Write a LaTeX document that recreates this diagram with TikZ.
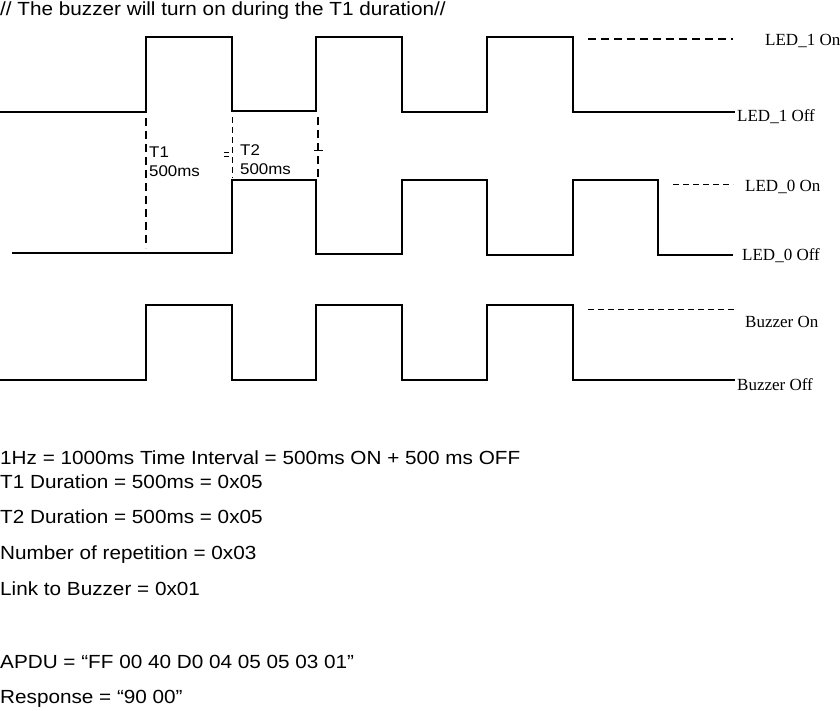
\documentclass[tikz,border=0pt]{standalone}
\usepackage{fontspec}
\setmainfont[FakeStretch=1.09]{Liberation Sans}
\newfontfamily\seriffont{Liberation Serif}
\usetikzlibrary{positioning}

\begin{document}
\begin{tikzpicture}[x=1pt, y=-1pt,
  wave/.style={line width=1.5pt, line join=miter},
  level/.style={line width=1.4pt, dash pattern=on 8pt off 5pt},
  thinlevel/.style={line width=0.9pt, dash pattern=on 6pt off 4pt},
  siglabel/.style={font=\seriffont\fontsize{17}{19}\selectfont, anchor=west, inner sep=0pt},
  tlabel/.style={font=\fontsize{15.5}{18}\selectfont, anchor=west, inner sep=0pt},
  note/.style={font=\fontsize{19}{21}\selectfont, anchor=base west, inner sep=0pt}
]
  \useasboundingbox (0,0) rectangle (840,711);

  % Title
  \node[note] (title) at (0,16) {// The buzzer will turn on during the T1 duration//};

  % LED_1 signal
  \draw[wave] (0,112) -- (146,112) -- (146,37) -- (232,37) -- (232,111) -- (316,111) -- (316,37)
    -- (402,37) -- (402,112) -- (487,112) -- (487,37) -- (573,37) -- (573,112) -- (735,112);
  \coordinate (l1a) at (588,39);
  \coordinate (l1b) at (733,39);
  \draw[level] (l1a) -- (l1b);
  \node[siglabel] (led1on) at (765,41) {LED\_1 On};
  \node[siglabel] (led1off) at (737,117) {LED\_1 Off};

  % LED_0 signal
  \draw[wave] (12,253) -- (232,253) -- (232,180) -- (316,180) -- (316,254) -- (402,254) -- (402,180)
    -- (487,180) -- (487,255) -- (573,255) -- (573,180) -- (658,180) -- (658,255) -- (733,255);
  \coordinate (l0a) at (673,184);
  \coordinate (l0b) at (733,184);
  \draw[thinlevel] (l0a) -- (l0b);
  \node[siglabel] (led0on) at (745,187) {LED\_0 On};
  \node[siglabel] (led0off) at (742,256) {LED\_0 Off};

  % Buzzer signal
  \draw[wave] (0,380) -- (146,380) -- (146,305) -- (232,305) -- (232,380) -- (316,380) -- (316,305)
    -- (402,305) -- (402,380) -- (487,380) -- (487,305) -- (573,305) -- (573,380) -- (735,380);
  \coordinate (bza) at (588,309);
  \coordinate (bzb) at (735,309);
  \draw[thinlevel] (bza) -- (bzb);
  \node[siglabel] (buzon) at (745,322) {Buzzer On};
  \node[siglabel] (buzoff) at (737,385) {Buzzer Off};

  % Duration markers
  \coordinate (t1top) at (146,118);
  \coordinate (t1bot) at (146,248);
  \coordinate (t2top) at (232,117);
  \coordinate (t2bot) at (232,178);
  \coordinate (t3top) at (318,117);
  \coordinate (t3bot) at (318,178);
  \draw[level] (t1top) -- (t1bot);
  \draw[thinlevel] (t2top) -- (t2bot);
  \draw[level] (t3top) -- (t3bot);
  \draw[line width=0.8pt] (224,152) -- (229,152) (224,156) -- (229,156);
  \draw[line width=0.8pt] (314,150) -- (323,150);

  \node[tlabel] (t1) at (149,152) {T1};
  \node[tlabel] (t1ms) at (149,171) {500ms};
  \node[tlabel] (t2) at (240,150) {T2};
  \node[tlabel] (t2ms) at (240,169) {500ms};

  % Notes
  \node[note] (hz) at (0,464) {1Hz = 1000ms Time Interval = 500ms ON + 500 ms OFF};
  \node[note] (dur1) at (0,488) {T1 Duration = 500ms = 0x05};
  \node[note] (dur2) at (0,523) {T2 Duration = 500ms = 0x05};
  \node[note] (rep) at (0,559) {Number of repetition = 0x03};
  \node[note] (link) at (0,595) {Link to Buzzer = 0x01};
  \node[note] (apdu) at (0,668) {APDU = “FF 00 40 D0 04 05 05 03 01”};
  \node[note] (resp) at (0,703) {Response = “90 00”};
\end{tikzpicture}
\end{document}
